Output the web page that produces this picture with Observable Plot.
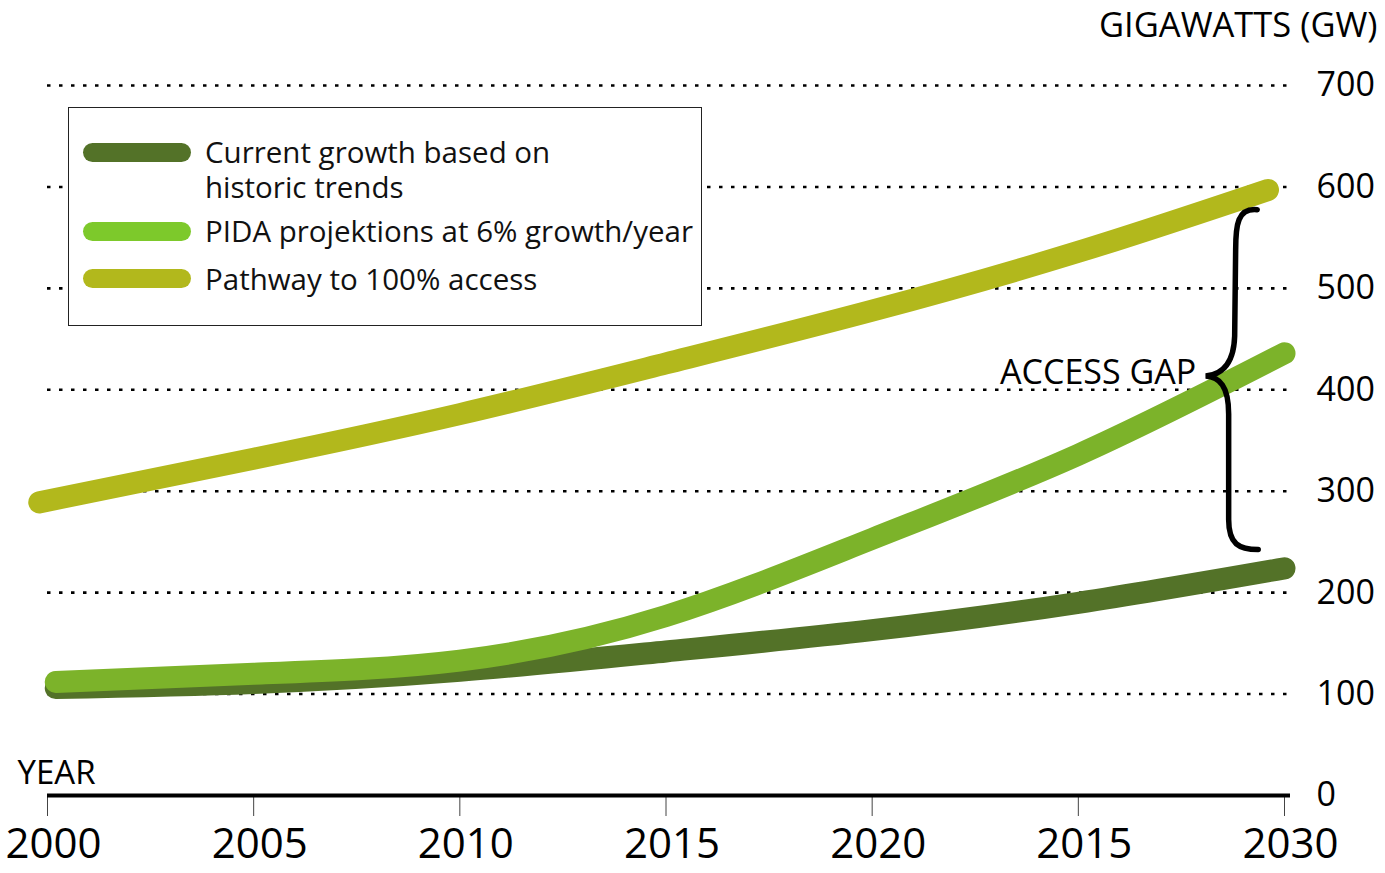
<!DOCTYPE html>
<html>
<head>
<meta charset="utf-8">
<script src="https://cdn.jsdelivr.net/npm/d3@7"></script>
<script src="https://cdn.jsdelivr.net/npm/@observablehq/plot@0.6"></script>
<style>
  html, body { margin: 0; padding: 0; background: #fff; }
  #wrap { position: relative; width: 1385px; height: 873px; font-family: "Open Sans", sans-serif; }
  #legend { position: absolute; left: 68px; top: 107px; width: 632px; height: 217px;
            border: 1.5px solid #222; background: #fff; }
  .sw { position: absolute; left: 14px; width: 108px; height: 19px; border-radius: 10px; }
  .lt { position: absolute; left: 136px; font-size: 29.5px; line-height: 35px; color: #111; white-space: nowrap; }
</style>
</head>
<body>
<div id="wrap"></div>
<script>
// ---- data ----
const years = [2000, 2005, 2010, 2015, 2020, 2025, 2030];
const xTickLabels = ["2000", "2005", "2010", "2015", "2020", "2015", "2030"];
const yTicks = [0, 100, 200, 300, 400, 500, 600, 700];
const gridTicks = [100, 200, 300, 400, 500, 600, 700];

const seriesNames = [
  "Current growth based on historic trends",
  "PIDA projektions at 6% growth/year",
  "Pathway to 100% access"
];
const legendLines = [
  ["Current growth based on", "historic trends"],
  ["PIDA projektions at 6% growth/year"],
  ["Pathway to 100% access"]
];
const currentYears = [2000.2, 2005, 2010, 2015, 2020, 2025, 2030];
const currentGrowth = [106, 111, 123, 142, 163, 190, 224];
const pidaYears = [2000.2, 2005, 2010, 2015, 2020, 2025, 2030];
const pidaProjection = [112, 120, 133, 177, 253, 336, 436];
const pathwayYears = [1999.8, 2005, 2010, 2015, 2020, 2025, 2029.6];
const pathwayAccess = [289, 332, 376, 426, 478, 536, 597];

const lineColors = ["#537228", "#7cb32a", "#b2b81c"];
const legendColors = ["#537228", "#7dc92b", "#b2b81c"];

// access gap brace (years / GW)
const braceYears = [2029.35, 2028.1];      // end, tip
const braceValues = [577, 413, 242];       // top, tip, bottom
const gapLabel = "ACCESS GAP";
const yTitle = "GIGAWATTS (GW)";
const xTitle = "YEAR";

// ---- build tables ----
const toRows = (xs, vs, s) => xs.map((x, i) => ({year: x, value: vs[i], series: s}));
const rowsCurrent = toRows(currentYears, currentGrowth, seriesNames[0]);
const rowsPida = toRows(pidaYears, pidaProjection, seriesNames[1]);
const rowsPath = toRows(pathwayYears, pathwayAccess, seriesNames[2]);

function brace(index, scales) {
  const x = scales.x, y = scales.y;
  const xe = x(braceYears[0]), xt = x(braceYears[1]);
  const yt = y(braceValues[0]), ym = y(braceValues[1]), yb = y(braceValues[2]);
  const s1 = xt + 30, s2 = xt + 23;
  const p = d3.path();
  p.moveTo(xe, yt);
  p.bezierCurveTo(s1 + 2, yt - 2, s1, yt + 15, s1, yt + 40);
  p.lineTo(s1 - 1, ym - 40);
  p.bezierCurveTo(s1 - 2, ym - 8, xt + 12, ym - 1, xt, ym);
  p.bezierCurveTo(xt + 14, ym + 1, s2, ym + 10, s2, ym + 38);
  p.lineTo(s2, yb - 30);
  p.bezierCurveTo(s2, yb - 5, xe - 18, yb, xe + 1, yb);
  return d3.create("svg:path")
    .attr("d", p.toString())
    .attr("fill", "none")
    .attr("stroke", "#000")
    .attr("stroke-width", 5.5)
    .attr("stroke-linecap", "round")
    .node();
}

const lineOpts = (c) => ({x: "year", y: "value", stroke: c, strokeWidth: 22, strokeLinecap: "round", curve: "natural"});

const chart = Plot.plot({
  width: 1385,
  height: 873,
  marginLeft: 47,
  marginRight: 101,
  marginTop: 85,
  marginBottom: 78,
  x: {domain: [2000, 2030]},
  y: {domain: [0, 700]},
  style: {fontFamily: "'Open Sans', sans-serif", background: "white", color: "#000"},
  marks: [
    Plot.gridY(gridTicks, {stroke: "#000", strokeOpacity: 1, strokeWidth: 2.6, strokeDasharray: "3.5 8.5", insetRight: -9}),
    // tick marks only
    Plot.axisX({ticks: years, tickFormat: () => "", tickSize: 21, stroke: "#444", label: null}),
    // tick labels only
    Plot.axisX({ticks: years, tickFormat: d => xTickLabels[years.indexOf(d)], tickSize: 0, tickPadding: 33,
                fontSize: 42, dx: 6, label: null}),
    Plot.ruleY([0], {stroke: "#000", strokeWidth: 4, insetRight: -6}),
    Plot.axisY({anchor: "right", ticks: yTicks, tickSize: 0, tickPadding: 32, fontSize: 34, label: null}),
    Plot.line(rowsCurrent, lineOpts(lineColors[0])),
    Plot.line(rowsPida, lineOpts(lineColors[1])),
    Plot.line(rowsPath, lineOpts(lineColors[2])),
    brace,
    Plot.text([gapLabel], {x: braceYears[1] - 0.05, y: braceValues[1], text: d => d, textAnchor: "end",
               lineAnchor: "middle", fontSize: 34, dx: -8, dy: -3, fill: "#000"}),
    Plot.text([yTitle], {frameAnchor: "top-right", text: d => d, textAnchor: "end", lineAnchor: "bottom",
               fontSize: 34.5, dx: 93, dy: -49, fill: "#000"}),
    Plot.text([xTitle], {frameAnchor: "bottom-left", text: d => d, textAnchor: "start", lineAnchor: "bottom",
               fontSize: 33, dx: -30, dy: -12, fill: "#000"})
  ]
});

const wrap = document.getElementById("wrap");
wrap.appendChild(chart);

// legend overlay
const legend = document.createElement("div");
legend.id = "legend";
const swatchCenters = [44, 123, 170];
const textTops = [26, 105, 153];
legendLines.forEach((lines, i) => {
  const sw = document.createElement("div");
  sw.className = "sw";
  sw.style.top = (swatchCenters[i] - 9.5) + "px";
  sw.style.background = legendColors[i];
  legend.appendChild(sw);
  const tx = document.createElement("div");
  tx.className = "lt";
  tx.style.top = textTops[i] + "px";
  lines.forEach((t, j) => {
    if (j > 0) tx.appendChild(document.createElement("br"));
    tx.appendChild(document.createTextNode(t));
  });
  legend.appendChild(tx);
});
wrap.appendChild(legend);
</script>
</body>
</html>
